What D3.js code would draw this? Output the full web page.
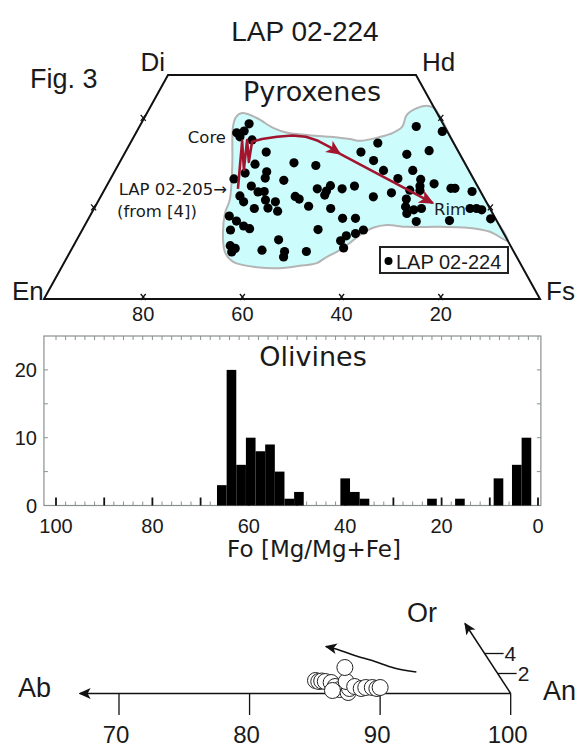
<!DOCTYPE html>
<html>
<head>
<meta charset="utf-8">
<script src="https://cdn.jsdelivr.net/npm/d3@7"></script>
<style>
  body { margin: 0; background: #fff; }
  svg text { fill: #1a1a1a; }
  .sans { font-family: 'Liberation Sans', Arial, sans-serif; }
  .vera { font-family: 'DejaVu Sans', sans-serif; }
</style>
</head>
<body>
<svg id="fig" width="579" height="747"></svg>
<script>
// Pyroxene analyses, mol% [Fs, Wo]
const pyroxenes = [
  [21.8, 39.1], [20.3, 37.1], [21.4, 36.2], [24.2, 35.5], [28.4, 32.8], [27.5, 30.1], [35.2, 30.4], [39.9, 29.8],
  [30.7, 28.4], [26.5, 28.1], [24.9, 26.8], [35.1, 26.5], [29.2, 25.2], [32.4, 24.0], [28.0, 23.0], [29.4, 21.7],
  [32.3, 20.2], [33.6, 22.1], [35.8, 21.7], [37.3, 19.6], [39.2, 22.9], [40.3, 22.3], [43.0, 20.7], [42.8, 24.6],
  [44.9, 24.1], [45.1, 25.3], [47.8, 24.6], [50.0, 25.2], [47.7, 20.2], [28.1, 18.5], [30.1, 17.4], [32.1, 16.3],
  [33.6, 15.7], [29.9, 15.4], [51.2, 18.0], [53.8, 18.0], [47.5, 15.5], [56.7, 15.4], [55.5, 14.6], [53.9, 14.1],
  [53.3, 13.0], [54.7, 11.4], [31.6, 11.9], [32.9, 11.3], [32.6, 10.5], [38.5, 10.9], [40.7, 13.2], [43.2, 10.6],
  [43.6, 9.4], [47.6, 10.6], [31.1, 27.0], [21.6, 37.5], [31.2, 23.9], [35.0, 20.3], [45.0, 23.2],
  [55.8, 38.5], [61.6, 37.4], [49.9, 34.8], [61.1, 33.1], [47.5, 32.8], [57.0, 32.3], [51.0, 30.9], [54.1, 28.7],
  [60.0, 28.7], [57.9, 26.9], [62.6, 26.7], [63.2, 25.2], [65.8, 25.7], [55.0, 22.8], [58.2, 23.7], [61.6, 24.3],
  [63.7, 24.2], [61.9, 22.3], [69.7, 24.7], [70.5, 24.7], [74.3, 24.0], [62.6, 20.6], [63.6, 19.1], [64.6, 19.9],
  [66.0, 20.2], [66.4, 17.3], [73.0, 17.5], [75.8, 20.2], [77.1, 20.2], [78.3, 19.9], [81.1, 17.9]
]

// outline of the LAP 02-205 field [Fs, Wo]
const fieldOutline = [
  [18.4, 40.6], [19.2, 41.5], [22.7, 40.4], [27.1, 38.2], [30.5, 37.1], [34.7, 36.6], [39.6, 36.2], [43.8, 35.7],
  [46.1, 35.3], [49.7, 36.2], [51.8, 37.1], [53.0, 38.4], [52.6, 41.1], [53.9, 42.6], [55.9, 43.1], [57.4, 42.6],
  [65, 35], [75, 25], [82, 18], [87.0, 13.0], [82.4, 15.0], [77.4, 15.9], [71.8, 16.1], [65.1, 16.1], [60.9, 16.5],
  [58.4, 15.9], [56.6, 14.3], [55.4, 12.5], [54.2, 10.9], [52.1, 9.2], [51.0, 8.0], [47.9, 7.4], [44.7, 6.9],
  [39.4, 7.1], [34.0, 8.3], [31.4, 10.3], [29.5, 13.2], [26.9, 19.2], [26.4, 22.1], [23.2, 29.5], [18.9, 38.4]
]

// core -> rim zoning trend [Fs, Wo]
const trendCore = [
  [26.8, 24.6], [22.3, 35.3], [25.9, 28.8], [23.2, 35.5], [26.0, 30.6], [24.4, 35.1], [26.1, 35.7],
  [28.9, 36.2], [31.8, 36.5], [34.7, 36.2], [37.6, 35.3], [40.7, 33.9], [43.5, 32.4]
]
const trendRim = [[43.5, 32.4], [67.7, 21.4]]

const quadCorners = [[0, 0], [100, 0], [50, 50], [0, 50]]
const enTicks = [80, 60, 40, 20]
const woTicks = [20, 40]

// olivine histogram: upper Fo edge of each 2-unit bin, and counts
const binUpper = [66.6, 64.6, 62.6, 60.6, 58.6, 56.6, 54.6, 52.6, 50.6, 41.0, 39.0, 37.0, 23.0, 17.2, 9.2, 5.4, 3.4]
const binCount = [3, 20, 6, 10, 8, 9, 5, 1, 2, 4, 2, 1, 1, 1, 4, 6, 10]
const binWidth = 2
const foTicks = [100, 80, 60, 40, 20, 0]
const countTicks = [0, 10, 20]

// plagioclase analyses [An, Or]
const plagioclase = [
  [84.4, 1.3], [84.7, 1.2], [84.9, 1.25], [85.2, 1.2], [85.7, 1.1], [86.2, 0.7], [86.7, 0.4], [86.2, 0.3],
  [87.5, 0.1], [87.4, 0.5], [86.8, 1.2], [87.7, 0.7], [88.3, 0.5], [88.6, 0.6], [89.1, 0.6], [89.5, 0.5],
  [89.7, 0.6], [86.0, 2.6]
]
const plagTrend = [[91.7, 2.15], [89.8, 2.55], [88.0, 3.2], [86.15, 3.8], [84.55, 4.4], [83.5, 4.7]]
const anTicks = [70, 80, 90, 100]
const orTicks = [2, 4]
const anAxisEnd = 67
const orAxisEnd = 7

const svg = d3.select('#fig')
const red = '#a3142e'

const defs = svg.append('defs')
function arrowMarker(id, color, size) {
  defs.append('marker')
    .attr('id', id)
    .attr('viewBox', '0 -5 10 10')
    .attr('refX', 9)
    .attr('markerUnits', 'userSpaceOnUse')
    .attr('markerWidth', size)
    .attr('markerHeight', size)
    .attr('orient', 'auto')
    .append('path')
    .attr('d', 'M0,-4.5L10,0L0,4.5L2.5,0Z')
    .attr('fill', color)
}
arrowMarker('arr-red', red, 15)
arrowMarker('arr-black', '#111', 12)

// ---------- title ----------
svg.append('text').attr('class', 'sans')
  .attr('x', 305).attr('y', 41)
  .attr('text-anchor', 'middle').attr('font-size', 28)
  .text('LAP 02-224')
svg.append('text').attr('class', 'sans')
  .attr('x', 30).attr('y', 88).attr('font-size', 27)
  .text('Fig. 3')

// ---------- pyroxene quadrilateral ----------
const pxX = d3.scaleLinear().domain([0, 100]).range([44, 540])
const pxY = d3.scaleLinear().domain([0, 50]).range([299, 75])
const pyxPos = ([fs, wo]) => [pxX(fs + wo / 2), pxY(wo)]

svg.append('path')
  .attr('d', d3.line().curve(d3.curveCatmullRomClosed.alpha(0.5))(fieldOutline.map(pyxPos)))
  .attr('fill', '#ccfcfc')
  .attr('stroke', '#b4b4b4')
  .attr('stroke-width', 2)

svg.append('path')
  .attr('d', d3.line()(quadCorners.map(pyxPos)) + 'Z')
  .attr('fill', 'none')
  .attr('stroke', '#111')
  .attr('stroke-width', 2)

// small grid marks on the edges
const marks = enTicks.map((en) => [100 - en, 0])
  .concat(woTicks.map((wo) => [0, wo]))
  .concat(woTicks.map((wo) => [100 - wo, wo]))
svg.append('g').selectAll('path')
  .data(marks)
  .join('path')
  .attr('d', (d) => {
    const [x, y] = pyxPos(d)
    return `M${x - 2.5},${y - 5}L${x + 2.5},${y + 1}M${x + 2.5},${y - 5}L${x - 2.5},${y + 1}`
  })
  .attr('stroke', '#111')
  .attr('stroke-width', 1.3)

svg.append('g').selectAll('text')
  .data(enTicks)
  .join('text')
  .attr('class', 'sans')
  .attr('x', (d) => pyxPos([100 - d, 0])[0])
  .attr('y', 321)
  .attr('text-anchor', 'middle')
  .attr('font-size', 20)
  .text((d) => d)

const corners = [
  {t: 'En', x: 12, y: 300, a: 'start'},
  {t: 'Fs', x: 546, y: 300, a: 'start'},
  {t: 'Di', x: 165, y: 71, a: 'end'},
  {t: 'Hd', x: 422, y: 71, a: 'start'},
]
svg.append('g').selectAll('text')
  .data(corners)
  .join('text')
  .attr('class', 'sans')
  .attr('x', (d) => d.x).attr('y', (d) => d.y)
  .attr('text-anchor', (d) => d.a)
  .attr('font-size', 26)
  .text((d) => d.t)

svg.append('text').attr('class', 'vera')
  .attr('x', 312).attr('y', 101)
  .attr('text-anchor', 'middle').attr('font-size', 27)
  .text('Pyroxenes')

svg.append('g').selectAll('circle')
  .data(pyroxenes)
  .join('circle')
  .attr('cx', (d) => pyxPos(d)[0])
  .attr('cy', (d) => pyxPos(d)[1])
  .attr('r', 4.6)
  .attr('fill', '#000')

svg.append('path')
  .attr('d', d3.line()(trendCore.map(pyxPos)))
  .attr('fill', 'none')
  .attr('stroke', red)
  .attr('stroke-width', 2.6)
  .attr('stroke-linejoin', 'round')
  .attr('marker-end', 'url(#arr-red)')
svg.append('path')
  .attr('d', d3.line()(trendRim.map(pyxPos)))
  .attr('fill', 'none')
  .attr('stroke', red)
  .attr('stroke-width', 2.6)
  .attr('marker-end', 'url(#arr-red)')

const notes = [
  {t: 'Core', x: 226, y: 143, a: 'end'},
  {t: 'LAP 02-205\u2192', x: 227, y: 195, a: 'end'},
  {t: '(from [4])', x: 117, y: 217, a: 'start'},
  {t: 'Rim', x: 434, y: 215, a: 'start'},
]
svg.append('g').selectAll('text')
  .data(notes)
  .join('text')
  .attr('class', 'vera')
  .attr('x', (d) => d.x).attr('y', (d) => d.y)
  .attr('text-anchor', (d) => d.a)
  .attr('font-size', 16.5)
  .text((d) => d.t)

const legend = svg.append('g').attr('transform', 'translate(380,247)')
legend.append('rect')
  .attr('width', 128).attr('height', 26)
  .attr('fill', '#fff')
  .attr('stroke', '#222')
  .attr('stroke-width', 2)
legend.append('circle').attr('cx', 8.5).attr('cy', 14).attr('r', 4).attr('fill', '#000')
legend.append('text').attr('class', 'sans')
  .attr('x', 16).attr('y', 21.5).attr('font-size', 20)
  .text('LAP 02-224')

// ---------- olivine histogram ----------
const foX = d3.scaleLinear().domain([100, 0]).range([56, 538])
const countY = d3.scaleLinear().domain([0, 25]).range([505.5, 336])
const frameL = foX(102.5), frameR = foX(-0.6)

const hist = svg.append('g')
hist.append('rect')
  .attr('x', frameL).attr('y', countY(25))
  .attr('width', frameR - frameL).attr('height', countY(0) - countY(25))
  .attr('fill', 'none')
  .attr('stroke', '#8a9090')
  .attr('stroke-width', 1.2)

hist.selectAll('.tick-top')
  .data(d3.range(0, 101, 2))
  .join('line')
  .attr('x1', (d) => foX(d)).attr('x2', (d) => foX(d))
  .attr('y1', countY(25)).attr('y2', countY(25) + 4)
  .attr('stroke', '#8a9090')
hist.selectAll('.tick-bot')
  .data(d3.range(0, 101, 2))
  .join('line')
  .attr('x1', (d) => foX(d)).attr('x2', (d) => foX(d))
  .attr('y1', countY(0)).attr('y2', (d) => countY(0) - (d % 10 === 0 ? 8 : 4))
  .attr('stroke', (d) => d % 10 === 0 ? '#111' : '#8a9090')
  .attr('stroke-width', (d) => d % 10 === 0 ? 1.8 : 1)
hist.selectAll('.tick-side')
  .data([5, 10, 15, 20].flatMap((c) => [[frameL, 4, c], [frameR, -4, c]]))
  .join('line')
  .attr('x1', (d) => d[0]).attr('x2', (d) => d[0] + d[1])
  .attr('y1', (d) => countY(d[2])).attr('y2', (d) => countY(d[2]))
  .attr('stroke', '#8a9090')

hist.selectAll('.bar')
  .data(binUpper.map((hi, i) => ({hi, n: binCount[i]})))
  .join('rect')
  .attr('x', (d) => foX(d.hi))
  .attr('width', (d) => foX(d.hi - binWidth) - foX(d.hi))
  .attr('y', (d) => countY(d.n))
  .attr('height', (d) => countY(0) - countY(d.n))
  .attr('fill', '#000')

hist.selectAll('.xlab')
  .data(foTicks)
  .join('text')
  .attr('class', 'sans')
  .attr('x', (d) => foX(d)).attr('y', 533)
  .attr('text-anchor', 'middle').attr('font-size', 20)
  .text((d) => d)
hist.selectAll('.ylab')
  .data(countTicks)
  .join('text')
  .attr('class', 'sans')
  .attr('x', 37).attr('y', (d) => countY(d) + 7)
  .attr('text-anchor', 'end').attr('font-size', 20)
  .text((d) => d)

hist.append('text').attr('class', 'vera')
  .attr('x', 313).attr('y', 366)
  .attr('text-anchor', 'middle').attr('font-size', 27)
  .text('Olivines')
hist.append('text').attr('class', 'vera')
  .attr('x', 314).attr('y', 557)
  .attr('text-anchor', 'middle').attr('font-size', 23)
  .text('Fo [Mg/Mg+Fe]')

// ---------- plagioclase (Ab-An-Or corner) ----------
const anX = d3.scaleLinear().domain([70, 100]).range([119, 510.7])
const orY = d3.scaleLinear().domain([0, 10]).range([693.5, 593.5])
const fspPos = ([an, or]) => [anX(an + or / 2), orY(or)]

const fsp = svg.append('g')
fsp.append('path')
  .attr('d', d3.line()([fspPos([100, 0]), fspPos([anAxisEnd, 0])]))
  .attr('stroke', '#111').attr('stroke-width', 1.5)
  .attr('marker-end', 'url(#arr-black)')
fsp.append('path')
  .attr('d', d3.line()([fspPos([100, 0]), fspPos([100 - orAxisEnd, orAxisEnd])]))
  .attr('stroke', '#111').attr('stroke-width', 1.5)
  .attr('marker-end', 'url(#arr-black)')

fsp.selectAll('.an-tick')
  .data(anTicks)
  .join('line')
  .attr('x1', (d) => anX(d)).attr('x2', (d) => anX(d))
  .attr('y1', orY(0)).attr('y2', orY(0) + 21.5)
  .attr('stroke', '#111').attr('stroke-width', 1.3)
fsp.selectAll('.an-lab')
  .data(anTicks)
  .join('text')
  .attr('class', 'sans')
  .attr('x', (d) => anX(d) - 3).attr('y', 743)
  .attr('text-anchor', 'middle').attr('font-size', 24)
  .text((d) => d)

fsp.selectAll('.or-tick')
  .data(orTicks)
  .join('line')
  .attr('x1', (d) => fspPos([100 - d, d])[0]).attr('x2', (d) => fspPos([100 - d, d])[0] + 19)
  .attr('y1', (d) => orY(d)).attr('y2', (d) => orY(d))
  .attr('stroke', '#111').attr('stroke-width', 1.3)
fsp.selectAll('.or-lab')
  .data(orTicks)
  .join('text')
  .attr('class', 'sans')
  .attr('x', (d) => fspPos([100 - d, d])[0] + 20).attr('y', (d) => orY(d) + 7.5)
  .attr('font-size', 21)
  .text((d) => d)

fsp.append('path')
  .attr('d', d3.line().curve(d3.curveNatural)(plagTrend.map(fspPos)))
  .attr('fill', 'none')
  .attr('stroke', '#111').attr('stroke-width', 1.5)
  .attr('marker-end', 'url(#arr-black)')

fsp.selectAll('.plag')
  .data(plagioclase)
  .join('circle')
  .attr('cx', (d) => fspPos(d)[0])
  .attr('cy', (d) => fspPos(d)[1])
  .attr('r', 8)
  .attr('fill', '#fff')
  .attr('stroke', '#222')
  .attr('stroke-width', 1)

const fspLabels = [
  {t: 'Ab', x: 18, y: 697},
  {t: 'An', x: 543, y: 700},
  {t: 'Or', x: 407, y: 622},
]
fsp.selectAll('.end-lab')
  .data(fspLabels)
  .join('text')
  .attr('class', 'sans')
  .attr('x', (d) => d.x).attr('y', (d) => d.y)
  .attr('font-size', 27)
  .text((d) => d.t)
</script>
</body>
</html>
